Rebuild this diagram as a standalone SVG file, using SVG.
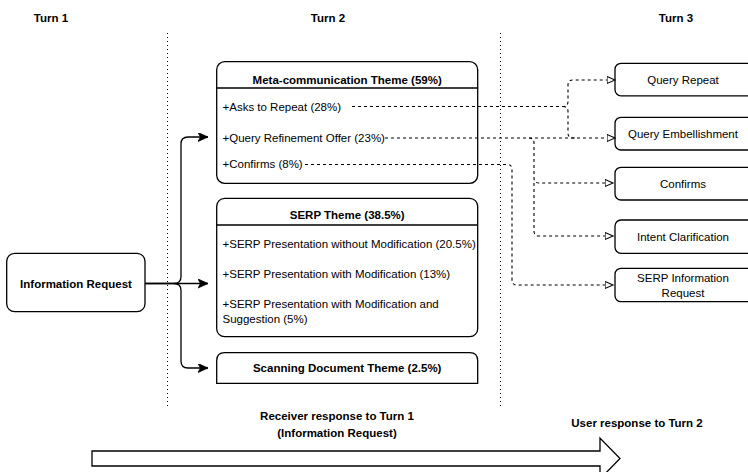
<svg xmlns="http://www.w3.org/2000/svg" width="748" height="472" viewBox="0 0 748 472">
<style>
text{font-family:"Liberation Sans",Arial,sans-serif;font-size:11.5px;fill:#000}
.b{font-weight:bold}
.c{text-anchor:middle}
.box{fill:#fff;stroke:#000;stroke-width:1.3}
.sep{stroke:#000;stroke-width:1.3}
.solid{fill:none;stroke:#000;stroke-width:1.3}
.dash{fill:none;stroke:#000;stroke-width:1.1;stroke-dasharray:3 3}
.dot{stroke:#000;stroke-width:1;stroke-dasharray:1 3}
</style>
<defs>
<marker id="arr" markerUnits="userSpaceOnUse" markerWidth="12" markerHeight="10" refX="10" refY="4.5" orient="auto">
<path d="M0,0 L10,4.5 L0,9 L2.5,4.5 Z" fill="#000" stroke="#000" stroke-width="0.8"/>
</marker>
<marker id="open" markerUnits="userSpaceOnUse" markerWidth="12" markerHeight="10" refX="8.5" refY="4" orient="auto">
<path d="M0.5,0.5 L8.5,4 L0.5,7.5 Z" fill="#fff" stroke="#000" stroke-width="1.1"/>
</marker>
</defs>
<g id="labels">
<text class="b c" x="51" y="22">Turn 1</text>
<text class="b c" x="328" y="22">Turn 2</text>
<text class="b c" x="676" y="22">Turn 3</text>
<text class="b c" x="337" y="420">Receiver response to Turn 1</text>
<text class="b c" x="337" y="437">(Information Request)</text>
<text class="b c" x="637" y="427">User response to Turn 2</text>
</g>
<g id="dividers">
<line class="dot" x1="167.5" y1="33" x2="167.5" y2="407"/>
<line class="dot" x1="500.5" y1="33" x2="500.5" y2="407"/>
</g>
<g id="timeline-arrow">
<path class="box" d="M92,451 H600 V438 L620,458.5 L600,479 V466 H92 Z"/>
</g>
<g id="info-request">
<rect class="box" x="6.7" y="253.3" width="138.3" height="58.4" rx="8"/>
<text class="b c" x="76" y="287.5">Information Request</text>
</g>
<g id="meta-theme">
<rect class="box" x="216.7" y="61.7" width="261" height="121.6" rx="8"/>
<line class="sep" x1="216.7" y1="88" x2="477.7" y2="88"/>
<text class="b c" x="347.2" y="84">Meta-communication Theme (59%)</text>
<text x="222.5" y="110.5">+Asks to Repeat (28%)</text>
<text x="222.5" y="141.5">+Query Refinement Offer (23%)</text>
<text x="222.5" y="168">+Confirms (8%)</text>
</g>
<g id="serp-theme">
<rect class="box" x="216.7" y="198.3" width="261" height="138.4" rx="8"/>
<line class="sep" x1="216.7" y1="225" x2="477.7" y2="225"/>
<text class="b c" x="347.2" y="218.5">SERP Theme (38.5%)</text>
<text x="222.5" y="247.5">+SERP Presentation without Modification (20.5%)</text>
<text x="222.5" y="277.5">+SERP Presentation with Modification (13%)</text>
<text x="222.5" y="307.5">+SERP Presentation with Modification and</text>
<text x="222.5" y="323">Suggestion (5%)</text>
</g>
<g id="scanning-theme">
<path class="box" d="M216.7,383.3 V360.7 Q216.7,352.7 224.7,352.7 H469.7 Q477.7,352.7 477.7,360.7 V383.3 Z"/>
<text class="b c" x="347.2" y="372">Scanning Document Theme (2.5%)</text>
</g>
<g id="query-repeat">
<rect class="box" x="615" y="63.3" width="145" height="32.5" rx="6"/>
<text class="c" x="683" y="84">Query Repeat</text>
</g>
<g id="query-embellishment">
<rect class="box" x="615" y="117.3" width="145" height="32.7" rx="6"/>
<text class="c" x="683" y="138">Query Embellishment</text>
</g>
<g id="confirms">
<rect class="box" x="615" y="167.3" width="145" height="32.7" rx="6"/>
<text class="c" x="683" y="188">Confirms</text>
</g>
<g id="intent-clarification">
<rect class="box" x="615" y="220" width="145" height="33.3" rx="6"/>
<text class="c" x="683" y="240.7">Intent Clarification</text>
</g>
<g id="serp-information-request">
<rect class="box" x="615" y="268.3" width="145" height="33.4" rx="6"/>
<text class="c" x="683" y="282.3">SERP Information</text>
<text class="c" x="683" y="297.3">Request</text>
</g>
<g id="connectors">
<path class="solid" d="M145,283.5 H208" marker-end="url(#arr)"/>
<path class="solid" d="M145,283.5 H174 Q181,283.5 181,276.5 V144 Q181,137 188,137 H208" marker-end="url(#arr)"/>
<path class="solid" d="M174,283.5 Q181,283.5 181,290.5 V361 Q181,368 188,368 H208" marker-end="url(#arr)"/>
<path class="dash" d="M352,106.5 H563 Q568,106.5 568,101.5 V85 Q568,80 573,80 H615" marker-end="url(#open)"/>
<path class="dash" d="M563,106.5 Q568,106.5 568,111.5 V133 Q568,138 573,138 H576"/>
<path class="dash" d="M385,138 H615" marker-end="url(#open)"/>
<path class="dash" d="M529,138 Q534,138 534,143 V178 Q534,183 539,183 H613" marker-end="url(#open)"/>
<path class="dash" d="M534,183 V231 Q534,236 539,236 H613" marker-end="url(#open)"/>
<path class="dash" d="M305,164.5 H507 Q512,164.5 512,169.5 V280 Q512,285 517,285 H613" marker-end="url(#open)"/>
</g>
</svg>
